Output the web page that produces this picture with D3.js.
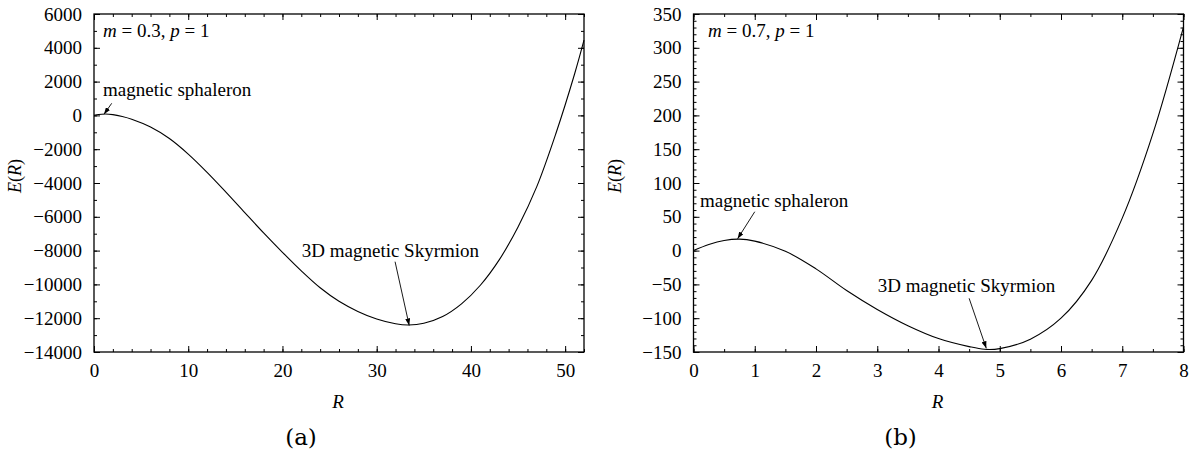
<!DOCTYPE html>
<html>
<head>
<meta charset="utf-8">
<script src="https://cdn.jsdelivr.net/npm/d3@7"></script>
<style>
  body { margin: 0; background: #fff; }
  svg text { font-family: "Liberation Serif", "Times New Roman", serif; fill: #000; }
</style>
</head>
<body>
<svg id="chart" width="1199" height="456"></svg>
<script>
// panel (a): m = 0.3, p = 1
var radiusA = [0, 0.5, 1.2, 2, 3, 4, 6, 8, 10, 12, 14, 16, 18, 20, 22, 24, 26, 28, 30, 32, 33.4, 35, 37, 39, 41, 43, 45, 47, 49, 51, 52];
var energyA = [0, 55, 80, 45, -70, -230, -690, -1370, -2290, -3370, -4540, -5750, -6950, -8100, -9200, -10200, -11000, -11600, -12050, -12330, -12400, -12300, -11900, -11150, -10050, -8550, -6600, -4200, -1100, 2450, 4450];
var xTicksA = [0, 10, 20, 30, 40, 50];
var yTicksA = [-14000, -12000, -10000, -8000, -6000, -4000, -2000, 0, 2000, 4000, 6000];

// panel (b): m = 0.7, p = 1
var radiusB = [0, 0.25, 0.5, 0.75, 1, 1.5, 2, 2.5, 3, 3.5, 4, 4.5, 4.75, 5, 5.5, 6, 6.5, 7, 7.5, 8];
var energyB = [0, 9, 15, 17, 14, -1, -27, -59, -87, -111, -130, -142, -146, -145, -131, -100, -44, 48, 173, 331];
var xTicksB = [0, 1, 2, 3, 4, 5, 6, 7, 8];
var yTicksB = [-150, -100, -50, 0, 50, 100, 150, 200, 250, 300, 350];

var svg = d3.select("#chart");
var plotTop = 14, plotBottom = 352;

// arrow head
svg.append("defs").append("marker")
    .attr("id", "head")
    .attr("markerUnits", "userSpaceOnUse")
    .attr("markerWidth", 8).attr("markerHeight", 5)
    .attr("refX", 7).attr("refY", 2.5)
    .attr("orient", "auto")
  .append("path")
    .attr("d", "M0,0L7,2.5L0,5Z")
    .attr("fill", "#000");

function fmt(d) { return String(d).replace("-", "\u2212"); }

function drawPanel(p) {
    var x = d3.scaleLinear().domain(p.xDomain).range([p.left, p.right]);
    var y = d3.scaleLinear().domain(p.yDomain).range([plotBottom, plotTop]);
    var g = svg.append("g");

    function styleAxis(a) {
        a.select(".domain").remove();
        a.attr("font-family", null).attr("font-size", null);
        a.selectAll("line").attr("stroke", "#000").attr("stroke-width", 1);
        a.selectAll("text").style("font-size", "19px");
    }

    // major ticks with labels
    g.append("g").attr("transform", "translate(0," + plotBottom + ")")
        .call(d3.axisBottom(x).tickValues(p.xTicks).tickSizeInner(-6).tickSizeOuter(0).tickPadding(12).tickFormat(fmt))
        .call(styleAxis);
    g.append("g").attr("transform", "translate(" + p.left + ",0)")
        .call(d3.axisLeft(y).tickValues(p.yTicks).tickSizeInner(-6).tickSizeOuter(0).tickPadding(12).tickFormat(fmt))
        .call(styleAxis);
    // mirrored major ticks
    g.append("g").attr("transform", "translate(0," + plotTop + ")")
        .call(d3.axisTop(x).tickValues(p.xTicks).tickSizeInner(-6).tickSizeOuter(0).tickFormat(""))
        .call(styleAxis);
    g.append("g").attr("transform", "translate(" + p.right + ",0)")
        .call(d3.axisRight(y).tickValues(p.yTicks).tickSizeInner(-6).tickSizeOuter(0).tickFormat(""))
        .call(styleAxis);

    // minor ticks on all four sides
    var xm = d3.range(p.xDomain[0], p.xDomain[1] + 1e-9, p.xMinor);
    var ym = d3.range(p.yDomain[0], p.yDomain[1] + 1e-9, p.yMinor);
    g.append("g").attr("transform", "translate(0," + plotBottom + ")")
        .call(d3.axisBottom(x).tickValues(xm).tickSize(-3).tickFormat("")).call(styleAxis);
    g.append("g").attr("transform", "translate(0," + plotTop + ")")
        .call(d3.axisTop(x).tickValues(xm).tickSize(-3).tickFormat("")).call(styleAxis);
    g.append("g").attr("transform", "translate(" + p.left + ",0)")
        .call(d3.axisLeft(y).tickValues(ym).tickSize(-3).tickFormat("")).call(styleAxis);
    g.append("g").attr("transform", "translate(" + p.right + ",0)")
        .call(d3.axisRight(y).tickValues(ym).tickSize(-3).tickFormat("")).call(styleAxis);

    // frame
    g.append("rect")
        .attr("x", p.left).attr("y", plotTop)
        .attr("width", p.right - p.left).attr("height", plotBottom - plotTop)
        .attr("fill", "none").attr("stroke", "#000").attr("stroke-width", 1.3);

    // the curve
    var pts = p.r.map(function (r, i) { return [r, p.e[i]]; });
    g.append("path")
        .datum(pts)
        .attr("fill", "none")
        .attr("stroke", "#000")
        .attr("stroke-width", 1.1)
        .attr("d", d3.line()
            .x(function (d) { return x(d[0]); })
            .y(function (d) { return y(d[1]); })
            .curve(d3.curveCatmullRom.alpha(0.5)));

    // parameter label
    var lab = g.append("text")
        .attr("x", x(p.param[0])).attr("y", y(p.param[1]))
        .style("font-size", "19px");
    lab.append("tspan").style("font-style", "italic").text("m");
    lab.append("tspan").text(" = " + p.mText + ", ");
    lab.append("tspan").style("font-style", "italic").text("p");
    lab.append("tspan").text(" = 1");

    // annotations with arrows
    p.notes.forEach(function (n) {
        g.append("text")
            .attr("x", x(n.text[0])).attr("y", y(n.text[1]))
            .style("font-size", "19px")
            .text(n.label);
        g.append("line")
            .attr("x1", x(n.tail[0])).attr("y1", y(n.tail[1]))
            .attr("x2", x(n.tip[0])).attr("y2", y(n.tip[1]))
            .attr("stroke", "#000").attr("stroke-width", 0.9)
            .attr("marker-end", "url(#head)");
    });

    // axis titles
    var cx = (p.left + p.right) / 2;
    var ey = g.append("text")
        .attr("transform", "translate(" + (p.left - 73) + "," + 176 + ") rotate(-90)")
        .attr("text-anchor", "middle")
        .style("font-size", "18px");
    ey.append("tspan").style("font-style", "italic").text("E");
    ey.append("tspan").text("(");
    ey.append("tspan").style("font-style", "italic").text("R");
    ey.append("tspan").text(")");

    g.append("text")
        .attr("x", cx - 1).attr("y", 408)
        .attr("text-anchor", "middle")
        .style("font-size", "19px").style("font-style", "italic")
        .text("R");

    g.append("text")
        .attr("x", cx - 38).attr("y", 445)
        .attr("text-anchor", "middle")
        .style("font-family", "'DejaVu Serif', serif")
        .style("font-size", "23px")
        .text(p.tag);
}

drawPanel({
    left: 94, right: 584,
    xDomain: [0, 52], yDomain: [-14000, 6000],
    xTicks: xTicksA, yTicks: yTicksA, xMinor: 2, yMinor: 1000,
    r: radiusA, e: energyA,
    mText: "0.3", param: [0.96, 4657], tag: "(a)",
    notes: [
        { label: "magnetic sphaleron", text: [0.96, 1148], tail: [1.88, 716], tip: [1.06, 65] },
        { label: "3D magnetic Skyrmion", text: [22.05, -8361], tail: [31.95, -8656], tip: [33.45, -12430] }
    ]
});

drawPanel({
    left: 693.5, right: 1183.5,
    xDomain: [0, 8], yDomain: [-150, 350],
    xTicks: xTicksB, yTicks: yTicksB, xMinor: 0.5, yMinor: 10,
    r: radiusB, e: energyB,
    mText: "0.7", param: [0.237, 316], tag: "(b)",
    notes: [
        { label: "magnetic sphaleron", text: [0.106, 65], tail: [1.0, 57.5], tip: [0.72, 17.5] },
        { label: "3D magnetic Skyrmion", text: [3.01, -60.8], tail: [4.5, -70.6], tip: [4.78, -144.5] }
    ]
});
</script>
</body>
</html>
